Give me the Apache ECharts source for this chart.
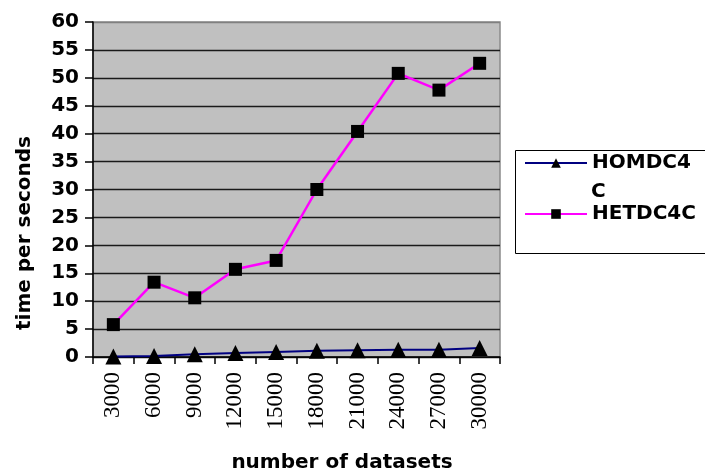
<!DOCTYPE html>
<html>
<head>
<meta charset="utf-8">
<style>html,body{margin:0;padding:0;background:#fff;}#c{width:705px;height:474px;}</style>
<script src="https://cdn.jsdelivr.net/npm/echarts@6/dist/echarts.min.js"></script>
</head>
<body>
<div id="c"></div>
<script>
var categories = ['3000','6000','9000','12000','15000','18000','21000','24000','27000','30000'];
var homValues = [0.1, 0.2, 0.5, 0.7, 0.9, 1.1, 1.2, 1.3, 1.3, 1.6];
var hetValues = [5.8, 13.4, 10.6, 15.7, 17.3, 30.0, 40.4, 50.8, 47.8, 52.6];
var seriesNames = ['HOMDC4C', 'HETDC4C'];
var xTitle = 'number of datasets';
var yTitle = 'time per seconds';

var chart = echarts.init(document.getElementById('c'), null, {renderer: 'canvas'});
var boldFont = 'DejaVu Sans';
var gridColors = [];
for (var i = 0; i < 12; i++) gridColors.push('#1a1a1a');
gridColors.push('#808080');

chart.setOption({
  animation: false,
  backgroundColor: '#fff',
  grid: {left: 93, top: 22, right: 205, bottom: 117, show: true,
         backgroundColor: '#C0C0C0', borderColor: '#8a8a8a', borderWidth: 1.5},
  xAxis: {
    type: 'category', data: categories, boundaryGap: true,
    axisLine: {lineStyle: {color: '#000', width: 1.5}},
    axisTick: {show: true, length: 7, interval: 0, lineStyle: {color: '#000', width: 1.5}},
    axisLabel: {rotate: 90, interval: 0, margin: 15, color: '#000',
                fontFamily: 'Liberation Serif', fontSize: 23},
    splitLine: {show: false}
  },
  yAxis: {
    type: 'value', min: 0, max: 60, interval: 5,
    axisLine: {show: true, lineStyle: {color: '#000', width: 1.5}},
    axisTick: {show: true, length: 8, lineStyle: {color: '#000', width: 1.5}},
    axisLabel: {margin: 14, color: '#000', fontFamily: boldFont, fontWeight: 'bold', fontSize: 20},
    splitLine: {show: true, lineStyle: {color: gridColors, width: 1.3}}
  },
  legend: {
    orient: 'vertical', left: 524, top: 153, padding: 0, itemWidth: 62, itemHeight: 12, itemGap: 31,
    data: seriesNames,
    formatter: function (n) { return n === 'HOMDC4C' ? 'HOMDC4' : n; },
    textStyle: {color: '#000', fontFamily: boldFont, fontWeight: 'bold', fontSize: 20, lineHeight: 20}
  },
  graphic: [
    {type: 'rect', z: -1, shape: {x: 515.5, y: 150.5, width: 200, height: 103},
     style: {fill: '#fff', stroke: '#000', lineWidth: 1}},
    {type: 'text', x: 591, y: 192, style: {text: 'C', fill: '#000', font: 'bold 20px "DejaVu Sans"',
     textAlign: 'left', textVerticalAlign: 'middle'}},
    {type: 'text', x: 342, y: 463, style: {text: xTitle, fill: '#000', font: 'bold 20px "DejaVu Sans"',
     textAlign: 'center', textVerticalAlign: 'middle'}},
    {type: 'text', x: 25, y: 233, rotation: Math.PI / 2, style: {text: yTitle, fill: '#000',
     font: 'bold 20px "DejaVu Sans"', textAlign: 'center', textVerticalAlign: 'middle'}}
  ],
  series: [
    {name: seriesNames[0], type: 'line', data: homValues, symbol: 'triangle', symbolSize: 16,
     itemStyle: {color: '#000'}, lineStyle: {color: '#000080', width: 2}, z: 3},
    {name: seriesNames[1], type: 'line', data: hetValues, symbol: 'rect', symbolSize: 13,
     itemStyle: {color: '#000'}, lineStyle: {color: '#FF00FF', width: 2.5}, z: 4}
  ]
});
</script>
</body>
</html>
